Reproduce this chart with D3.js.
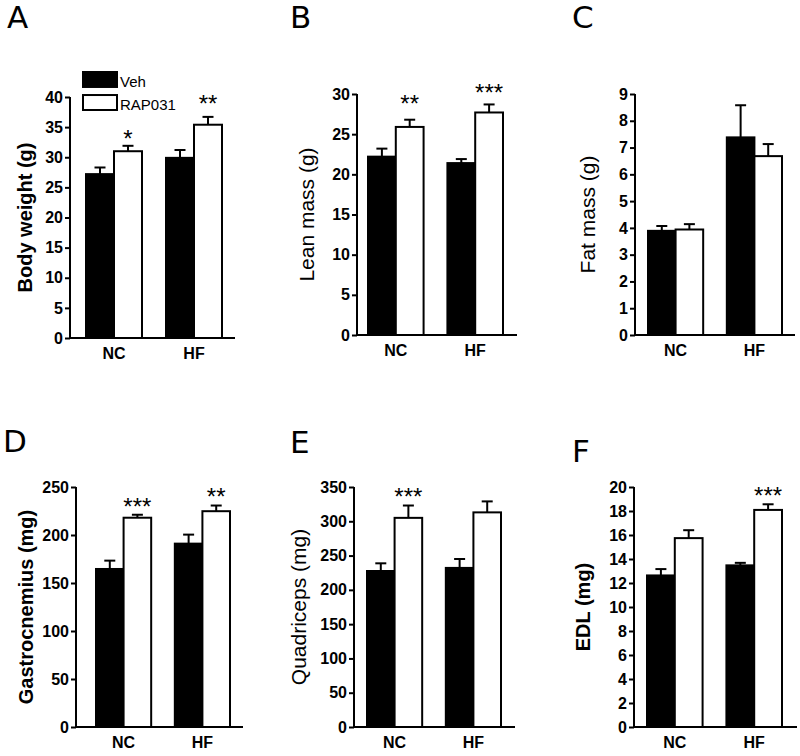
<!DOCTYPE html>
<html>
<head>
<meta charset="utf-8">
<script src="https://cdn.jsdelivr.net/npm/d3@7/dist/d3.min.js"></script>
<style>
  html, body { margin: 0; padding: 0; background: #fff; }
  svg { display: block; }
</style>
</head>
<body>
<svg id="chart" width="800" height="756"></svg>
<script>
// ---------------- DATA ----------------
const categories = ["NC", "HF"];
const seriesNames = ["Veh", "RAP031"];

const bodyWeightVeh = [27.2, 29.9];
const bodyWeightVehErr = [1.1, 1.3];
const bodyWeightRap = [31.0, 35.4];
const bodyWeightRapErr = [0.9, 1.3];
const bodyWeightStars = ["*", "**"];
const bodyWeightTicks = [0, 5, 10, 15, 20, 25, 30, 35, 40];

const leanVeh = [22.2, 21.4];
const leanVehErr = [1.0, 0.5];
const leanRap = [25.9, 27.7];
const leanRapErr = [0.9, 1.0];
const leanStars = ["**", "***"];
const leanTicks = [0, 5, 10, 15, 20, 25, 30];

const fatVeh = [3.89, 7.38];
const fatVehErr = [0.18, 1.2];
const fatRap = [3.94, 6.68];
const fatRapErr = [0.2, 0.45];
const fatStars = ["", ""];
const fatTicks = [0, 1, 2, 3, 4, 5, 6, 7, 8, 9];

const gastroVeh = [164.6, 191.0];
const gastroVehErr = [8.7, 9.4];
const gastroRap = [218.0, 224.8];
const gastroRapErr = [3.1, 5.9];
const gastroStars = ["***", "**"];
const gastroTicks = [0, 50, 100, 150, 200, 250];

const quadVeh = [227.5, 232.0];
const quadVehErr = [11.2, 13.0];
const quadRap = [305.0, 313.0];
const quadRapErr = [18.0, 16.0];
const quadStars = ["***", ""];
const quadTicks = [0, 50, 100, 150, 200, 250, 300, 350];

const edlVeh = [12.63, 13.47];
const edlVehErr = [0.53, 0.21];
const edlRap = [15.74, 18.09];
const edlRapErr = [0.66, 0.47];
const edlStars = ["", "***"];
const edlTicks = [0, 2, 4, 6, 8, 10, 12, 14, 16, 18, 20];

const panelLetters = ["A", "B", "C", "D", "E", "F"];
const axisTitles = ["Body weight (g)", "Lean mass (g)", "Fat mass (g)",
                    "Gastrocnemius (mg)", "Quadriceps (mg)", "EDL (mg)"];

// ---------------- LAYOUT ----------------
const panels = [
  { letter: panelLetters[0], title: axisTitles[0], veh: bodyWeightVeh, vehErr: bodyWeightVehErr, rap: bodyWeightRap, rapErr: bodyWeightRapErr, stars: bodyWeightStars, ticks: bodyWeightTicks,
    ax: 70, xEnd: 235, b0: 86, b1: 222, yTop: 97, yBot: 338, labX: 32, bold: true, tx: 7, ty: 28, starOff: [12, 18], legend: true },
  { letter: panelLetters[1], title: axisTitles[1], veh: leanVeh, vehErr: leanVehErr, rap: leanRap, rapErr: leanRapErr, stars: leanStars, ticks: leanTicks,
    ax: 357, xEnd: 517, b0: 368, b1: 503, yTop: 94, yBot: 335, labX: 314, bold: false, tx: 290, ty: 28, starOff: [21, 16] },
  { letter: panelLetters[2], title: axisTitles[2], veh: fatVeh, vehErr: fatVehErr, rap: fatRap, rapErr: fatRapErr, stars: fatStars, ticks: fatTicks,
    ax: 635, xEnd: 795, b0: 648, b1: 782, yTop: 94, yBot: 335, labX: 595, bold: false, tx: 572, ty: 28, starOff: [14, 14] },
  { letter: panelLetters[3], title: axisTitles[3], veh: gastroVeh, vehErr: gastroVehErr, rap: gastroRap, rapErr: gastroRapErr, stars: gastroStars, ticks: gastroTicks,
    ax: 76, xEnd: 243, b0: 96, b1: 230, yTop: 487, yBot: 727, labX: 33, bold: true, tx: 3, ty: 452, starOff: [13, 14] },
  { letter: panelLetters[4], title: axisTitles[4], veh: quadVeh, vehErr: quadVehErr, rap: quadRap, rapErr: quadRapErr, stars: quadStars, ticks: quadTicks,
    ax: 354, xEnd: 515, b0: 367, b1: 501, yTop: 487, yBot: 727, labX: 306, bold: false, tx: 290, ty: 453, starOff: [14, 14] },
  { letter: panelLetters[5], title: axisTitles[5], veh: edlVeh, vehErr: edlVehErr, rap: edlRap, rapErr: edlRapErr, stars: edlStars, ticks: edlTicks,
    ax: 634, xEnd: 797, b0: 647, b1: 782, yTop: 487, yBot: 727, labX: 590, bold: true, tx: 572, ty: 462, starOff: [13, 13] }
];

const svg = d3.select("#chart");
const tickFont = "'Liberation Sans', Arial, sans-serif";
const letterFont = "'DejaVu Sans', sans-serif";

panels.forEach(p => {
  const g = svg.append("g");
  const yMax = p.ticks[p.ticks.length - 1];
  const y = d3.scaleLinear().domain([0, yMax]).range([p.yBot, p.yTop]);
  const x = d3.scaleBand().domain(categories).range([p.b0, p.b1]).paddingInner(0.3).paddingOuter(0);
  const xs = d3.scaleBand().domain(seriesNames).range([0, x.bandwidth()]).padding(0);

  const rows = categories.map((c, i) => [
    { cat: c, s: seriesNames[0], v: p.veh[i], e: p.vehErr[i], star: "" },
    { cat: c, s: seriesNames[1], v: p.rap[i], e: p.rapErr[i], star: p.stars[i], off: p.starOff[i] }
  ]).flat();

  // error bars (drawn under bars)
  const eb = g.append("g").attr("stroke", "#000").attr("stroke-width", 2);
  rows.forEach(d => {
    const cx = x(d.cat) + xs(d.s) + xs.bandwidth() / 2;
    eb.append("line").attr("x1", cx).attr("x2", cx).attr("y1", y(d.v)).attr("y2", y(d.v + d.e));
    eb.append("line").attr("x1", cx - 5.5).attr("x2", cx + 5.5).attr("y1", y(d.v + d.e)).attr("y2", y(d.v + d.e));
  });

  // bars
  g.append("g").selectAll("rect").data(rows).join("rect")
    .attr("x", d => x(d.cat) + xs(d.s))
    .attr("y", d => y(d.v))
    .attr("width", xs.bandwidth())
    .attr("height", d => y(0) - y(d.v))
    .attr("fill", d => d.s === "Veh" ? "#000" : "#fff")
    .attr("stroke", "#000")
    .attr("stroke-width", 2);

  // stars
  g.append("g").selectAll("text").data(rows.filter(d => d.star)).join("text")
    .attr("x", d => x(d.cat) + xs(d.s) + xs.bandwidth() / 2)
    .attr("y", d => y(d.v + d.e) - d.off + 13)
    .attr("text-anchor", "middle")
    .attr("font-family", "'Liberation Sans', Arial, sans-serif")
    .attr("font-size", 24)
    .attr("fill", "#000")
    .text(d => d.star);

  // y axis
  const yAxis = g.append("g")
    .attr("transform", `translate(${p.ax},0)`)
    .call(d3.axisLeft(y).tickValues(p.ticks).tickSize(5).tickSizeOuter(0).tickPadding(2).tickFormat(d3.format("d")));
  yAxis.select(".domain").attr("stroke-width", 2).attr("d", `M0,${p.yTop}V${p.yBot + 1}`);
  yAxis.selectAll(".tick line").attr("stroke-width", 2);
  yAxis.selectAll(".tick text")
    .attr("font-family", tickFont).attr("font-weight", "bold").attr("font-size", 16).attr("fill", "#000");

  // x axis
  const xLine = d3.scaleLinear().domain([0, 1]).range([p.ax, p.xEnd]);
  g.append("line").attr("x1", xLine(0) - 1).attr("x2", xLine(1)).attr("y1", p.yBot).attr("y2", p.yBot)
    .attr("stroke", "#000").attr("stroke-width", 2);
  const xAxis = g.append("g")
    .attr("transform", `translate(0,${p.yBot})`)
    .call(d3.axisBottom(x).tickSize(0).tickPadding(10));
  xAxis.select(".domain").remove();
  xAxis.selectAll(".tick text")
    .attr("font-family", tickFont).attr("font-weight", "bold").attr("font-size", 16)
    .attr("fill", "#000").attr("dy", "0.71em");

  // axis title
  g.append("text")
    .attr("transform", `translate(${p.labX},${(p.yTop + p.yBot) / 2}) rotate(-90)`)
    .attr("text-anchor", "middle")
    .attr("font-family", tickFont)
    .attr("font-weight", p.bold ? "bold" : "normal")
    .attr("font-size", p.bold ? 20 : 21)
    .attr("fill", "#000")
    .text(p.title);

  // panel letter
  g.append("text").attr("x", p.tx).attr("y", p.ty)
    .attr("font-family", letterFont).attr("font-size", 31).attr("fill", "#000")
    .text(p.letter);

  // legend
  if (p.legend) {
    const lg = g.append("g");
    const ly = d3.scaleBand().domain(seriesNames).range([72, 110]).paddingInner(0.35);
    seriesNames.forEach(s => {
      lg.append("rect").attr("x", 83).attr("y", ly(s)).attr("width", 34).attr("height", ly.bandwidth())
        .attr("fill", s === "Veh" ? "#000" : "#fff").attr("stroke", "#000").attr("stroke-width", 2);
      lg.append("text").attr("x", 120).attr("y", ly(s) + ly.bandwidth())
        .attr("font-family", "'Liberation Sans', Arial, sans-serif").attr("font-size", 15)
        .attr("fill", "#000").text(s);
    });
  }
});
</script>
</body>
</html>
